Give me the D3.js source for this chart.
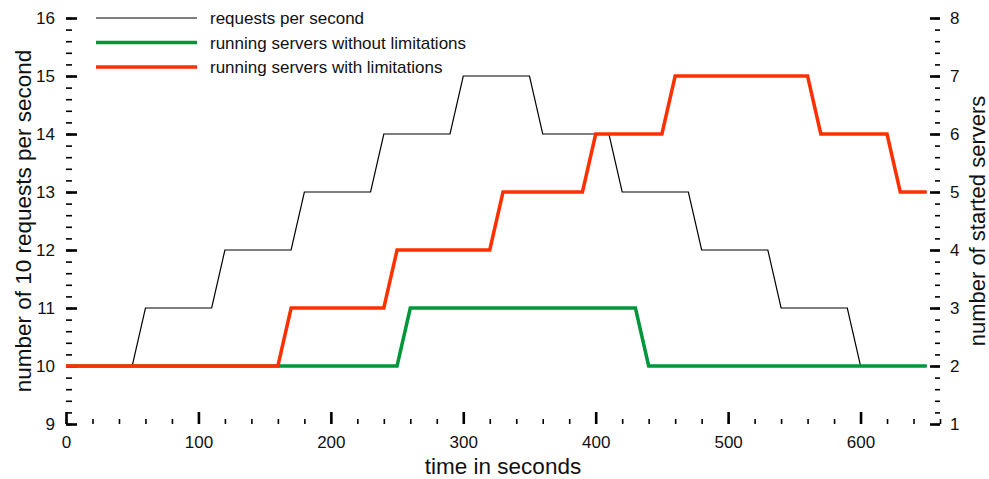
<!DOCTYPE html>
<html>
<head>
<meta charset="utf-8">
<script src="https://cdn.jsdelivr.net/npm/d3@7"></script>
<style>
  body { margin: 0; background: #fff; }
  text { font-family: "Liberation Sans", Arial, Helvetica, sans-serif; }
</style>
</head>
<body>
<div id="chart"></div>
<script>
// donnees
var reqTime  = [0, 50, 60, 110, 120, 170, 180, 230, 240, 290, 300, 350, 360, 410, 420, 470, 480, 530, 540, 590, 600, 650];
var reqValue = [10, 10, 11, 11, 12, 12, 13, 13, 14, 14, 15, 15, 14, 14, 13, 13, 12, 12, 11, 11, 10, 10];

var sansLimTime  = [0, 250, 260, 430, 440, 650];
var sansLimValue = [2, 2, 3, 3, 2, 2];

var avecLimTime  = [0, 160, 170, 240, 250, 320, 330, 390, 400, 450, 460, 560, 570, 620, 630, 650];
var avecLimValue = [2, 2, 3, 3, 4, 4, 5, 5, 6, 6, 7, 7, 6, 6, 5, 5];

var legendeNoms = ["requests per second", "running servers without limitations", "running servers with limitations"];
var couleurs = ["#000000", "#00963a", "#ff3000"];
var epaisseurs = [1.2, 3.5, 3.5];

var xTicks = [0, 100, 200, 300, 400, 500, 600];
var yLeftTicks = [9, 10, 11, 12, 13, 14, 15, 16];
var yRightTicks = [1, 2, 3, 4, 5, 6, 7, 8];

//----------------------------------------------------------------
// svg + echelles
var largeur = 989, hauteur = 479;
var gauche = 66, droite = 940, haut = 18, bas = 424;

var svg = d3.select("#chart")
  .append("svg")
  .attr("width", largeur)
  .attr("height", hauteur);

var x = d3.scaleLinear().domain([0, 660]).range([gauche, droite]);
var yL = d3.scaleLinear().domain([9, 16]).range([bas, haut]);
var yR = d3.scaleLinear().domain([1, 8]).range([bas, haut]);

//----------------------------------------------------------------
// axes (ticks vers l'interieur, pas de ligne de domaine)
function axe(epais) {
  return function(g) {
    g.select(".domain").remove();
    g.selectAll("line").attr("stroke", "#000").attr("stroke-width", epais);
    g.selectAll("text").attr("font-size", "17px").attr("fill", "#111");
  };
}

// minor ticks
svg.append("g")
  .attr("transform", "translate(0," + bas + ")")
  .call(d3.axisBottom(x).tickValues(d3.range(0, 661, 20)).tickSize(-5).tickFormat(""))
  .call(axe(1.6));
svg.append("g")
  .attr("transform", "translate(" + gauche + ",0)")
  .call(d3.axisLeft(yL).tickValues(d3.range(45, 81).map(function(v){ return v / 5; })).tickSize(-6).tickFormat(""))
  .call(axe(1.6));
svg.append("g")
  .attr("transform", "translate(" + droite + ",0)")
  .call(d3.axisRight(yR).tickValues(d3.range(5, 41).map(function(v){ return v / 5; })).tickSize(-5).tickFormat(""))
  .call(axe(1.6));

// major ticks
svg.append("g")
  .attr("transform", "translate(0," + bas + ")")
  .call(d3.axisBottom(x).tickValues(xTicks).tickSize(-12).tickPadding(12).tickFormat(d3.format("d")))
  .call(axe(2.6));
svg.append("g")
  .attr("transform", "translate(" + gauche + ",0)")
  .call(d3.axisLeft(yL).tickValues(yLeftTicks).tickSize(-11).tickPadding(11).tickFormat(d3.format("d")))
  .call(axe(2.6));
svg.append("g")
  .attr("transform", "translate(" + droite + ",0)")
  .call(d3.axisRight(yR).tickValues(yRightTicks).tickSize(-10).tickPadding(10).tickFormat(d3.format("d")))
  .call(axe(2.6));

//----------------------------------------------------------------
// courbes
var ligneG = d3.line().x(function(d){ return x(d[0]); }).y(function(d){ return yL(d[1]); });
var ligneD = d3.line().x(function(d){ return x(d[0]); }).y(function(d){ return yR(d[1]); });

svg.append("path")
  .datum(d3.zip(reqTime, reqValue))
  .attr("fill", "none")
  .attr("stroke", couleurs[0])
  .attr("stroke-width", epaisseurs[0])
  .attr("d", ligneG);

svg.append("path")
  .datum(d3.zip(sansLimTime, sansLimValue))
  .attr("fill", "none")
  .attr("stroke", couleurs[1])
  .attr("stroke-width", epaisseurs[1])
  .attr("d", ligneD);

svg.append("path")
  .datum(d3.zip(avecLimTime, avecLimValue))
  .attr("fill", "none")
  .attr("stroke", couleurs[2])
  .attr("stroke-width", epaisseurs[2])
  .attr("d", ligneD);

//----------------------------------------------------------------
// legende
var leg = svg.selectAll(".leg")
  .data(legendeNoms)
  .enter()
  .append("g")
  .attr("class", "leg")
  .attr("transform", function(d, i){ return "translate(0," + (18 + i * 24.5) + ")"; });
leg.append("line")
  .attr("x1", 96).attr("x2", 197)
  .attr("stroke", function(d, i){ return couleurs[i]; })
  .attr("stroke-width", function(d, i){ return epaisseurs[i]; });
leg.append("text")
  .attr("x", 210)
  .attr("y", 6)
  .attr("font-size", "17px")
  .attr("fill", "#111")
  .text(function(d){ return d; });

//----------------------------------------------------------------
// titres des axes
svg.append("text")
  .attr("x", (gauche + droite) / 2)
  .attr("y", 474)
  .attr("text-anchor", "middle")
  .attr("font-size", "22.5px")
  .attr("fill", "#111")
  .text("time in seconds");

svg.append("text")
  .attr("transform", "translate(31," + ((haut + bas) / 2) + ") rotate(-90)")
  .attr("text-anchor", "middle")
  .attr("font-size", "22.5px")
  .attr("fill", "#111")
  .text("number of 10 requests per second");

svg.append("text")
  .attr("transform", "translate(985," + ((haut + bas) / 2) + ") rotate(-90)")
  .attr("text-anchor", "middle")
  .attr("font-size", "22px")
  .attr("fill", "#111")
  .text("number of started servers");
</script>
</body>
</html>
